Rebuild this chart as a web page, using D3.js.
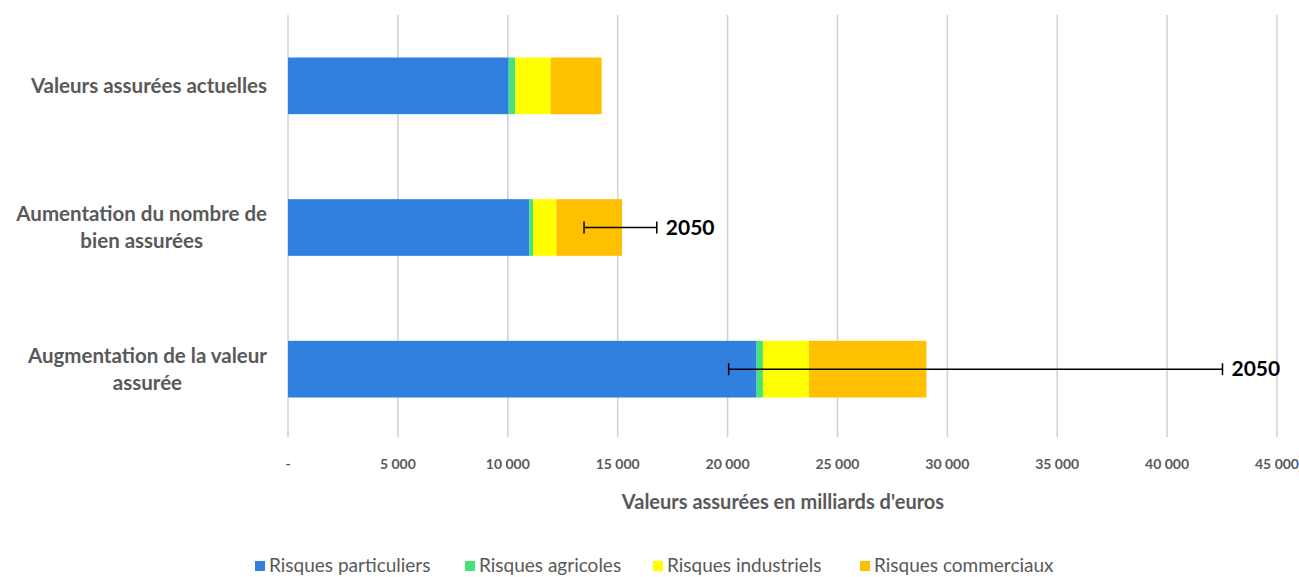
<!DOCTYPE html>
<html><head><meta charset="utf-8">
<script src="https://cdn.jsdelivr.net/npm/d3@7"></script>
<style>body{margin:0;background:#fff}svg{display:block}</style>
</head><body>
<svg id="c" width="1299" height="577"></svg>
<script>
const categories = [
  ["Valeurs assurées actuelles"],
  ["Aumentation du nombre de", "bien assurées"],
  ["Augmentation de la valeur", "assurée"]
];
const seriesNames = ["Risques particuliers", "Risques agricoles", "Risques industriels", "Risques commerciaux"];
const seriesColors = ["#3180E0", "#47E27A", "#FFFF00", "#FFC000"];
const particuliers = [10040, 10980, 21320];
const agricoles = [300, 170, 290];
const industriels = [1610, 1060, 2090];
const commerciaux = [2320, 2990, 5350];
const errLow = [null, 13470, 20050];
const errHigh = [null, 16780, 42520];
const errLabel = [null, "2050", "2050"];
const xTicks = [0, 5000, 10000, 15000, 20000, 25000, 30000, 35000, 40000, 45000];
const xTitle = "Valeurs assurées en milliards d'euros";

(function () {
const svg = d3.select("#c");
const font = "Lato, 'Open Sans', sans-serif";
const mLeft = 288, mRight = 1277, mTop = 15, mBottom = 440;

const x = d3.scaleLinear().domain([0, 45000]).range([mLeft, mRight]);
const y = d3.scaleBand().domain(d3.range(categories.length)).range([mTop, mBottom]).paddingInner(0.6).paddingOuter(0.3);

// gridlines
svg.append("g").selectAll("line").data(xTicks).join("line")
  .attr("x1", d => x(d)).attr("x2", d => x(d))
  .attr("y1", mTop).attr("y2", 437)
  .attr("stroke", "#d0d0d0").attr("stroke-width", 1.5);

// stacked data
const seriesVals = [particuliers, agricoles, industriels, commerciaux];
const rows = categories.map((c, i) => {
  const o = {i};
  seriesNames.forEach((s, k) => o[s] = seriesVals[k][i]);
  return o;
});
const stack = d3.stack().keys(seriesNames)(rows);

svg.append("g").selectAll("g").data(stack).join("g")
  .attr("fill", (d, k) => seriesColors[k])
  .selectAll("rect").data(d => d).join("rect")
  .attr("x", d => x(d[0]))
  .attr("width", d => x(d[1]) - x(d[0]))
  .attr("y", (d, i) => y(i))
  .attr("height", y.bandwidth());

// error bars
const eg = svg.append("g");
categories.forEach((c, i) => {
  if (errLow[i] == null) return;
  const cy = y(i) + y.bandwidth() / 2;
  eg.append("line").attr("x1", x(errLow[i])).attr("x2", x(errHigh[i])).attr("y1", cy).attr("y2", cy)
    .attr("stroke", "#000").attr("stroke-width", 1.5);
  [errLow[i], errHigh[i]].forEach(v => {
    eg.append("line").attr("x1", x(v)).attr("x2", x(v)).attr("y1", cy - 6).attr("y2", cy + 6)
      .attr("stroke", "#000").attr("stroke-width", 1.5);
  });
  eg.append("text").attr("x", x(errHigh[i]) + 9).attr("y", cy + 7)
    .attr("font-family", font).attr("font-weight", "bold").attr("font-size", 21)
    .attr("fill", "#000").text(errLabel[i]);
});

// x tick labels
const fmt = v => v === 0 ? "-" : d3.format(",")(v).replace(/,/g, " ");
svg.append("g").selectAll("text").data(xTicks).join("text")
  .attr("x", d => x(d)).attr("y", 469)
  .attr("text-anchor", "middle")
  .attr("font-family", font).attr("font-weight", "bold").attr("font-size", 14)
  .attr("fill", "#595959").text(fmt);

// axis title
svg.append("text").attr("x", 783).attr("y", 509).attr("text-anchor", "middle")
  .attr("font-family", font).attr("font-weight", "bold").attr("font-size", 20)
  .attr("fill", "#595959").text(xTitle);

// category labels
categories.forEach((lines, i) => {
  const cy = y(i) + y.bandwidth() / 2;
  const g = svg.append("g");
  const lh = 27;
  const y0 = cy - (lines.length - 1) * lh / 2 + 7;
  const texts = lines.map((l, j) => g.append("text").attr("y", y0 + j * lh)
    .attr("font-family", font).attr("font-weight", "bold").attr("font-size", 20.5)
    .attr("fill", "#595959").attr("text-anchor", "middle").text(l));
  const w = d3.max(texts, t => t.node().getComputedTextLength());
  texts.forEach(t => t.attr("x", 267 - w / 2));
});

// legend
const legX = [255, 465, 653, 860];
const lg = svg.append("g");
seriesNames.forEach((s, k) => {
  lg.append("rect").attr("x", legX[k]).attr("y", 561).attr("width", 10).attr("height", 10).attr("fill", seriesColors[k]);
  lg.append("text").attr("x", legX[k] + 14).attr("y", 572)
    .attr("font-family", font).attr("font-size", 19).attr("fill", "#595959").text(s);
});
})();
</script>
</body></html>
